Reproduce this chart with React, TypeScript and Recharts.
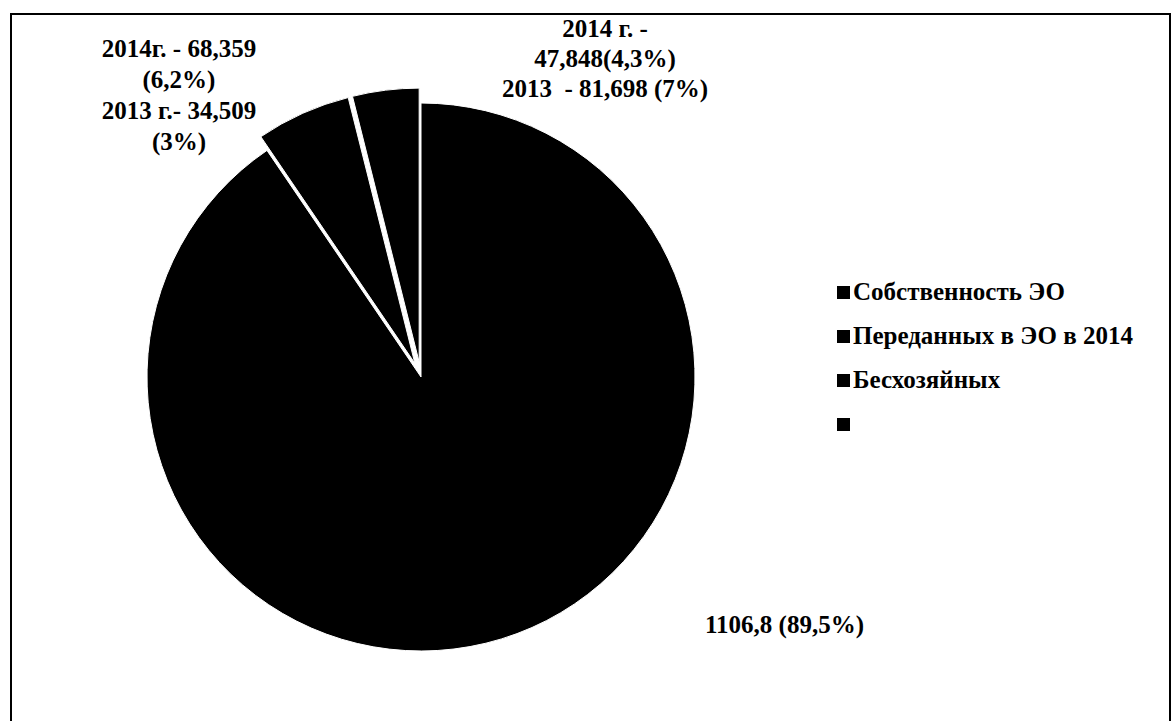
import { PieChart, Pie, Cell, Legend } from "recharts";

// категории и значения (км сетей)
const categories = ["Собственность ЭО", "Переданных в ЭО в 2014", "Бесхозяйных", ""];
const values = [1106.8, 68.359, 47.848, 0];
const explodeBy = [0, 15, 15, 0];

// подписи к секторам
const labelMain = ["1106,8 (89,5%)"];
const labelTransferred = ["2014г. - 68,359", "(6,2%)", "2013 г.- 34,509", "(3%)"];
const labelOwnerless = ["2014 г. -", "47,848(4,3%)", "2013  - 81,698 (7%)"];

const FONT = '"Liberation Serif", "Times New Roman", serif';
const CX = 404;
const CY = 357;
const R = 274;

const data = categories
  .map((name, i) => ({ name, value: values[i] }))
  .filter((d) => d.value > 0);

// смещение «выдвинутого» сектора по его средней линии
function offsetOf(i: number) {
  const total = data.reduce((s, d) => s + d.value, 0);
  const before = data.slice(0, i).reduce((s, d) => s + d.value, 0);
  const mid = ((before + data[i].value / 2) / total) * 2 * Math.PI;
  const d = explodeBy[i];
  return { dx: d * Math.sin(mid), dy: -d * Math.cos(mid) };
}

function LegendBox() {
  return (
    <div style={{ fontFamily: FONT, fontSize: 25, fontWeight: "bold", color: "#000" }}>
      {categories.map((c, i) => (
        <div key={i} style={{ height: 44, display: "flex", alignItems: "center", whiteSpace: "nowrap" }}>
          <span style={{ width: 13, height: 13, background: "#000", display: "inline-block", marginRight: 3 }} />
          <span>{c}</span>
        </div>
      ))}
    </div>
  );
}

function TextBlock({ lines, left, top, width, lineHeight, align }: {
  lines: string[]; left: number; top: number; width: number; lineHeight: number; align: "center" | "left";
}) {
  return (
    <div
      style={{
        position: "absolute", left, top, width, textAlign: align,
        fontFamily: FONT, fontSize: 25, fontWeight: "bold", lineHeight: `${lineHeight}px`,
        whiteSpace: "pre", color: "#000",
      }}
    >
      {lines.map((l, i) => (
        <div key={i}>{l}</div>
      ))}
    </div>
  );
}

export default function App() {
  return (
    <div
      style={{
        position: "absolute", left: 10, top: 13, width: 1161, height: 720,
        border: "2px solid #000", boxSizing: "border-box", background: "#fff",
      }}
    >
      <PieChart width={1157} height={700}>
        {data.map((_, k) => {
          const { dx, dy } = offsetOf(k);
          return (
            <Pie
              key={k}
              data={data}
              dataKey="value"
              nameKey="name"
              cx={CX + dx}
              cy={CY + dy}
              outerRadius={R}
              startAngle={90}
              endAngle={-270}
              isAnimationActive={false}
              legendType="none"
            >
              {data.map((_, i) => (
                <Cell
                  key={i}
                  fill={i === k ? "#000" : "transparent"}
                  stroke={i === k ? "#fff" : "none"}
                  strokeWidth={1}
                />
              ))}
            </Pie>
          );
        })}
        <Legend content={() => <LegendBox />} wrapperStyle={{ left: 825, top: 255, width: 330 }} />
      </PieChart>
      <TextBlock lines={labelTransferred} left={17} top={18} width={300} lineHeight={31} align="center" />
      <TextBlock lines={labelOwnerless} left={443} top={-1} width={300} lineHeight={30} align="center" />
      <TextBlock lines={labelMain} left={693} top={594} width={300} lineHeight={31} align="left" />
    </div>
  );
}
